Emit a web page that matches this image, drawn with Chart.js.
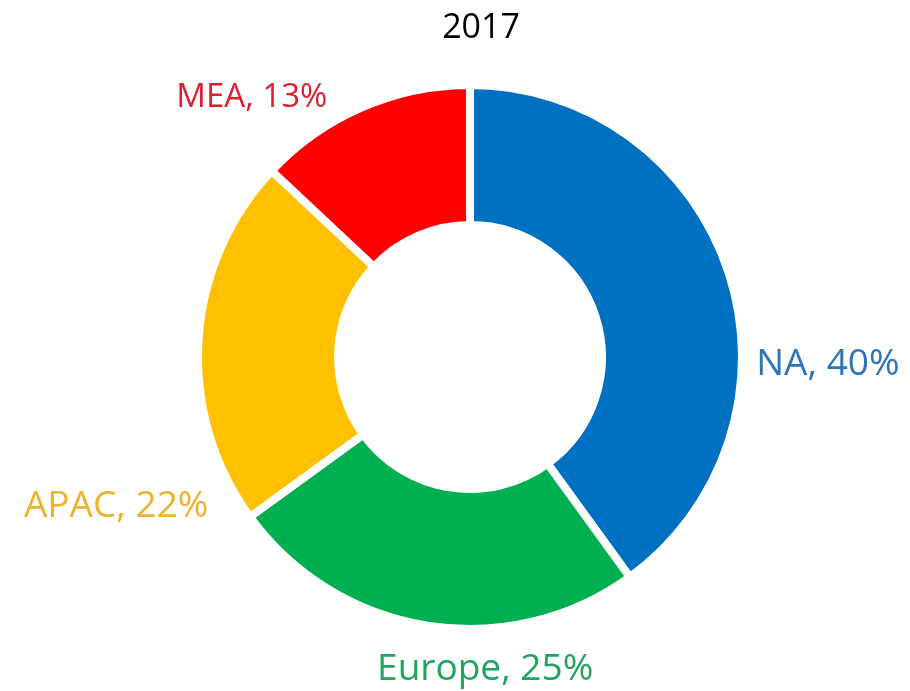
<!DOCTYPE html>
<html>
<head>
<meta charset="utf-8">
<title>2017</title>
<script src="https://cdn.jsdelivr.net/npm/chart.js@4.4.1/dist/chart.umd.min.js"></script>
<style>
  html, body { margin: 0; padding: 0; background: #fff; }
  #wrap { width: 910px; height: 691px; }
</style>
</head>
<body>
<div id="wrap"><canvas id="regionChart"></canvas></div>
<script>
// Regional share, 2017 (percent)
const chartTitle = '2017';
const regions = ['NA', 'Europe', 'APAC', 'MEA'];
const shares = [40, 25, 22, 13];

const sliceColors = ['#0070C0', '#00B050', '#FFC000', '#FF0000'];
const labelColors = ['#2E75B6', '#21A45C', '#EDB22E', '#DF1F2D'];

// where each data label sits: angle from 12 o'clock (deg) and distance in outer radii
const labelSpots = [
    { angle: 90.8, dist: 1.316, size: 37 },
    { angle: 177.2, dist: 1.141, size: 37 },
    { angle: 247.4, dist: 1.409, size: 37 },
    { angle: 320.2, dist: 1.253, size: 33 }
];

const outsideLabels = {
    id: 'outsideLabels',
    afterDraw(chart) {
        const ctx = chart.ctx;
        const meta = chart.getDatasetMeta(0);
        const first = meta.data[0];
        const cx = first.x, cy = first.y, r = first.outerRadius;

        ctx.save();
        ctx.textAlign = 'center';
        ctx.textBaseline = 'alphabetic';

        // title
        ctx.fillStyle = '#000';
        ctx.font = '34px "Open Sans"';
        ctx.fillText(chartTitle, chart.width * 0.5286, 38);

        meta.data.forEach((arc, i) => {
            const spot = labelSpots[i];
            const a = spot.angle * Math.PI / 180;
            const x = cx + Math.sin(a) * r * spot.dist;
            const y = cy - Math.cos(a) * r * spot.dist;
            ctx.font = spot.size + 'px "Open Sans"';
            ctx.fillStyle = labelColors[i];
            ctx.fillText(regions[i] + ', ' + shares[i] + '%', x, y + spot.size * 0.357);
        });
        ctx.restore();
    }
};

const ctx = document.getElementById('regionChart');
const regionChart = new Chart(ctx, {
    type: 'doughnut',
    data: {
        labels: regions,
        datasets: [{
            data: shares,
            backgroundColor: sliceColors,
            borderColor: '#ffffff',
            borderWidth: 8
        }]
    },
    options: {
        responsive: true,
        maintainAspectRatio: false,
        animation: false,
        cutout: '48.5%',
        layout: {
            padding: { left: 194, right: 164, top: 81, bottom: 58 }
        },
        plugins: {
            legend: { display: false },
            tooltip: { enabled: false },
            title: { display: false }
        }
    },
    plugins: [outsideLabels]
});
</script>
</body>
</html>
